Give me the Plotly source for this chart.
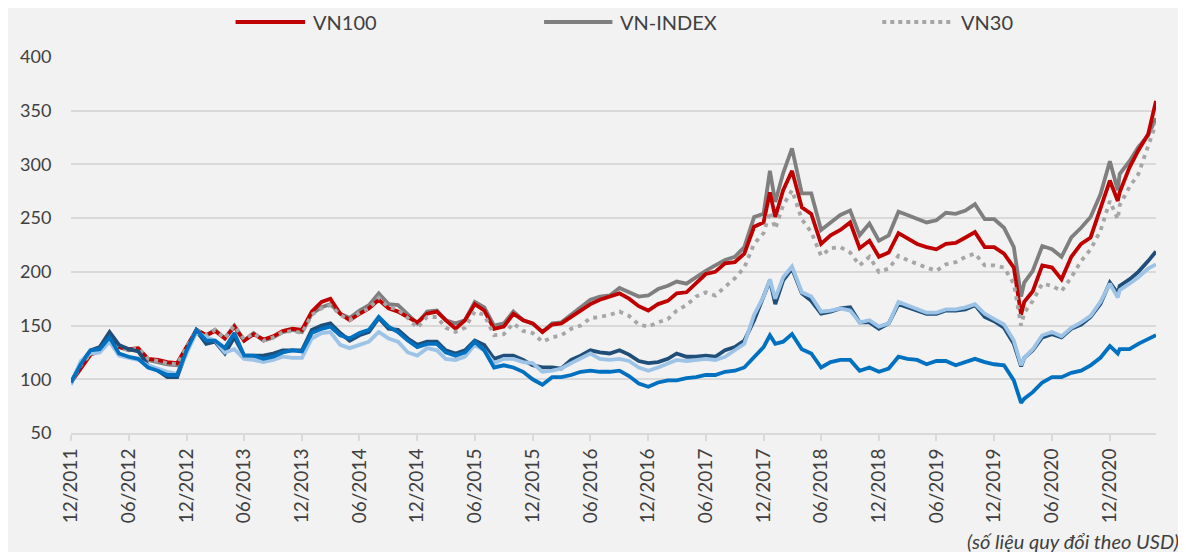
import plotly.graph_objects as go

dates = [
    "2011-12-01",
    "2012-01-01", "2012-02-01", "2012-03-01", "2012-04-01", "2012-05-01", "2012-06-01",
    "2012-07-01", "2012-08-01", "2012-09-01", "2012-10-01", "2012-11-01", "2012-12-01",
    "2013-01-01", "2013-02-01", "2013-03-01", "2013-04-01", "2013-05-01", "2013-06-01",
    "2013-07-01", "2013-08-01", "2013-09-01", "2013-10-01", "2013-11-01", "2013-12-01",
    "2014-01-01", "2014-02-01", "2014-03-01", "2014-04-01", "2014-05-01", "2014-06-01",
    "2014-07-01", "2014-08-01", "2014-09-01", "2014-10-01", "2014-11-01", "2014-12-01",
    "2015-01-01", "2015-02-01", "2015-03-01", "2015-04-01", "2015-05-01", "2015-06-01",
    "2015-07-01", "2015-08-01", "2015-09-01", "2015-10-01", "2015-11-01", "2015-12-01",
    "2016-01-01", "2016-02-01", "2016-03-01", "2016-04-01", "2016-05-01", "2016-06-01",
    "2016-07-01", "2016-08-01", "2016-09-01", "2016-10-01", "2016-11-01", "2016-12-01",
    "2017-01-01", "2017-02-01", "2017-03-01", "2017-04-01", "2017-05-01", "2017-06-01",
    "2017-07-01", "2017-08-01", "2017-09-01", "2017-10-01", "2017-11-01", "2017-12-01",
    "2017-12-21", "2018-01-07", "2018-02-01", "2018-03-01", "2018-04-01", "2018-05-01",
    "2018-06-01", "2018-07-01", "2018-08-01", "2018-09-01", "2018-10-01", "2018-11-01",
    "2018-12-01", "2019-01-01", "2019-02-01", "2019-03-01", "2019-04-01", "2019-05-01",
    "2019-06-01", "2019-07-01", "2019-08-01", "2019-09-01", "2019-10-01", "2019-11-01",
    "2019-12-01", "2020-01-01", "2020-02-01", "2020-02-24", "2020-03-05", "2020-04-01",
    "2020-05-01", "2020-06-01", "2020-07-01", "2020-08-01", "2020-09-01", "2020-10-01",
    "2020-11-01", "2020-12-01", "2020-12-26", "2021-01-01", "2021-02-01", "2021-03-01",
    "2021-04-01", "2021-04-26",
]

vn_index = [
    97,
    113, 124, 127, 140, 130, 127, 128, 118, 116, 114, 113, 129,
    146, 141, 146, 138, 150, 136, 143, 136, 139, 144, 146, 144,
    161, 167, 170, 161, 157, 164, 169, 180, 170, 169, 160, 152,
    163, 164, 155, 152, 155, 172, 167, 150, 152, 163, 155, 152,
    144, 152, 153, 160, 166, 174, 177, 178, 185, 181, 177, 178,
    184, 187, 191, 189, 195, 201, 206, 211, 214, 223, 251, 254,
    294, 265, 292, 315, 273, 273, 239, 246, 253, 257, 234, 245,
    229, 234, 256, 253, 249, 246, 248, 255, 254, 257, 263, 249,
    249, 241, 223, 177, 190, 201, 224, 221, 214, 232, 241, 251,
    272, 303, 276, 291, 303, 316, 327, 343,
]

vn100 = [
    97,
    110, 123, 126, 139, 130, 128, 129, 119, 118, 116, 115, 130,
    146, 141, 145, 138, 149, 136, 142, 137, 140, 145, 147, 146,
    163, 172, 175, 161, 155, 161, 166, 174, 166, 163, 158, 153,
    161, 163, 155, 147, 155, 170, 164, 147, 149, 161, 155, 152,
    144, 151, 152, 158, 164, 170, 174, 177, 180, 175, 168, 164,
    170, 173, 180, 181, 189, 198, 200, 208, 209, 217, 242, 246,
    274, 251, 276, 294, 260, 254, 226, 234, 239, 246, 222, 229,
    214, 218, 236, 231, 226, 223, 221, 226, 227, 232, 237, 223,
    223, 217, 204, 160, 172, 182, 206, 204, 193, 214, 226, 232,
    258, 285, 266, 274, 297, 313, 328, 359,
]

vn30 = [
    97,
    113, 124, 127, 140, 130, 127, 129, 119, 117, 115, 114, 129,
    146, 141, 146, 138, 150, 137, 143, 136, 139, 144, 145, 143,
    160, 166, 169, 160, 155, 162, 166, 176, 167, 165, 157, 148,
    158, 158, 148, 144, 148, 163, 160, 141, 142, 152, 145, 143,
    135, 139, 141, 147, 150, 157, 158, 160, 163, 159, 151, 149,
    153, 156, 164, 169, 177, 181, 178, 186, 194, 204, 226, 236,
    256, 240, 262, 276, 249, 237, 215, 222, 223, 218, 206, 214,
    200, 203, 215, 211, 207, 204, 201, 207, 209, 214, 217, 206,
    206, 204, 189, 150, 162, 173, 189, 187, 182, 195, 210, 221,
    238, 266, 249, 262, 279, 291, 317, 338,
]

navy_series = [
    97,
    115, 127, 130, 144, 132, 128, 126, 113, 108, 102, 102, 126,
    145, 133, 135, 124, 139, 122, 122, 122, 124, 127, 127, 127,
    146, 150, 152, 143, 136, 141, 144, 157, 147, 146, 138, 132,
    135, 135, 127, 124, 127, 136, 132, 119, 122, 122, 118, 113,
    111, 111, 110, 118, 122, 127, 125, 124, 127, 123, 117, 115,
    116, 119, 124, 121, 121, 122, 121, 127, 130, 136, 155, 177,
    192, 170, 192, 203, 180, 173, 161, 163, 166, 167, 153, 153,
    147, 152, 170, 167, 164, 161, 161, 164, 164, 165, 169, 158,
    154, 148, 133, 112, 120, 127, 139, 142, 139, 147, 151, 158,
    170, 190, 180, 187, 193, 200, 210, 219,
]

light_series = [
    95,
    117, 124, 125, 135, 122, 120, 118, 113, 110, 107, 105, 125,
    144, 139, 136, 125, 128, 119, 118, 116, 118, 121, 120, 120,
    138, 143, 144, 132, 129, 132, 135, 144, 138, 135, 125, 122,
    129, 127, 119, 118, 121, 132, 127, 115, 119, 119, 116, 115,
    107, 108, 110, 115, 119, 124, 119, 118, 119, 117, 111, 108,
    111, 115, 118, 117, 118, 119, 118, 121, 127, 133, 160, 177,
    193, 175, 195, 205, 181, 177, 163, 164, 166, 164, 153, 155,
    149, 152, 172, 169, 165, 162, 162, 165, 165, 167, 170, 161,
    156, 151, 136, 113, 120, 128, 141, 144, 140, 148, 153, 159,
    172, 189, 176, 183, 189, 195, 203, 207,
]

medium_series = [
    97,
    114, 127, 128, 139, 124, 121, 119, 111, 108, 104, 104, 127,
    146, 136, 136, 129, 143, 122, 122, 119, 121, 125, 127, 126,
    143, 147, 149, 141, 138, 143, 146, 158, 149, 144, 136, 130,
    133, 133, 125, 122, 125, 135, 127, 111, 113, 111, 107, 100,
    95, 102, 102, 104, 107, 108, 107, 107, 108, 103, 96, 93,
    97, 99, 99, 101, 102, 104, 104, 107, 108, 111, 121, 130,
    141, 133, 135, 142, 128, 124, 111, 116, 118, 118, 108, 111,
    107, 110, 121, 119, 118, 114, 117, 117, 113, 116, 119, 116,
    114, 113, 99, 78, 82, 88, 97, 102, 102, 106, 108, 113,
    120, 131, 124, 128, 128, 133, 137, 141,
]

y_ticks = [50, 100, 150, 200, 250, 300, 350, 400]
legend_names = ["VN100", "VN-INDEX", "VN30"]
note_text = "(số liệu quy đổi theo USD)"

FONT = "Lato, 'Open Sans', sans-serif"
TXT = "#404040"
RED = "#c00000"
GRAY = "#7f7f7f"
DOT = "#a6a6a6"
NAVY = "#1f4e79"
LIGHT = "#9dc3e6"
MED = "#0070c0"
LW = 3.8

fig = go.Figure()
fig.add_trace(go.Scatter(x=dates, y=vn_index, mode="lines", name=legend_names[1],
                         line=dict(color=GRAY, width=LW), showlegend=False))
fig.add_trace(go.Scatter(x=dates, y=vn100, mode="lines", name=legend_names[0],
                         line=dict(color=RED, width=LW), showlegend=False))
fig.add_trace(go.Scatter(x=dates, y=vn30, mode="lines", name=legend_names[2],
                         line=dict(color=DOT, width=LW, dash="4px,5px"), showlegend=False))
fig.add_trace(go.Scatter(x=dates, y=navy_series, mode="lines", name="navy",
                         line=dict(color=NAVY, width=LW), showlegend=False))
fig.add_trace(go.Scatter(x=dates, y=light_series, mode="lines", name="light",
                         line=dict(color=LIGHT, width=LW), showlegend=False))
fig.add_trace(go.Scatter(x=dates, y=medium_series, mode="lines", name="medium",
                         line=dict(color=MED, width=LW), showlegend=False))

# manual legend (paper coordinates above the plot area)
ly = 1.093
legend_items = [
    (0.1517, 0.2157, RED, "solid", legend_names[0]),
    (0.4360, 0.4990, GRAY, "solid", legend_names[1]),
    (0.7477, 0.8126, DOT, "dot", legend_names[2]),
]
for x0, x1, col, dash, name in legend_items:
    fig.add_shape(type="line", xref="paper", yref="paper", x0=x0, x1=x1, y0=ly, y1=ly,
                  line=dict(color=col, width=4, dash=dash))
    fig.add_annotation(xref="paper", yref="paper", x=x1 + 0.0055, y=ly, text=name,
                       showarrow=False, xanchor="left", yanchor="middle",
                       font=dict(family=FONT, size=20, color=TXT))

fig.add_annotation(xref="paper", yref="paper", x=1.0235, y=-0.287, text=note_text,
                   showarrow=False, xanchor="right", yanchor="middle",
                   font=dict(family=FONT, size=20, color=TXT, style="italic"))

# the page body has an 8px margin, so the figure is 8px smaller than the window
fig.update_layout(
    width=1178, height=544,
    paper_bgcolor="#f2f2f2", plot_bgcolor="#f2f2f2",
    margin=dict(l=54, r=30, t=49, b=119),
    showlegend=False,
    font=dict(family=FONT, color=TXT),
    xaxis=dict(
        type="date", range=["2011-12-01", "2021-04-26"],
        tick0="2011-12-01", dtick="M6", tickformat="%m/%Y", tickangle=-90,
        ticks="outside", ticklen=6, tickwidth=1.5, tickcolor="#d9d9d9",
        showline=True, linecolor="#d9d9d9", linewidth=2,
        showgrid=False, zeroline=False,
        tickfont=dict(family=FONT, size=19, color=TXT),
    ),
    yaxis=dict(
        range=[50, 400], tickvals=y_ticks,
        showgrid=True, gridcolor="#d9d9d9", gridwidth=1.5,
        showline=False, zeroline=False,
        ticks="outside", ticklen=15, tickcolor="rgba(0,0,0,0)",
        tickfont=dict(family=FONT, size=18, color=TXT),
    ),
)

fig.write_html("out.html")
